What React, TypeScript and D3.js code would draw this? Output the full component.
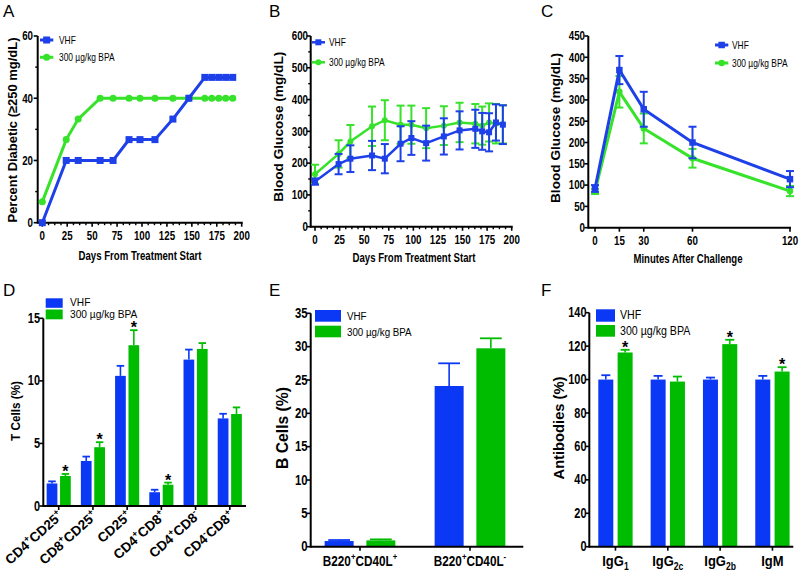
import React from 'react';
import * as d3 from 'd3';

// colours
const LINE_BLUE = '#1e40e8';
const LINE_GREEN = '#36e22a';
const BAR_BLUE = '#0b38f4';
const BAR_GREEN = '#00bc00';
const FONT = '"Liberation Sans", Arial, Helvetica, sans-serif';
const SX = 0.78;

const seriesNames = ['VHF', '300 µg/kg BPA'];

// A - percent diabetic over time
const days = [0, 24, 36, 58, 71, 87, 98, 113, 131, 147, 163, 170, 177, 184, 191];
const diabeticVHF = [0, 20, 20, 20, 20, 26.7, 26.7, 26.7, 33.3, 40, 46.7, 46.7, 46.7, 46.7, 46.7];
const diabeticBPA = [6.7, 26.7, 33.3, 40, 40, 40, 40, 40, 40, 40, 40, 40, 40, 40, 40];

// B - blood glucose over time (mean, sem)
const glucoseVHF = [142, 197, 214, 224, 214, 261, 279, 263, 284, 303, 308, 300, 297, 328, 321];
const glucoseVHFErr = [10, 32, 42, 46, 46, 55, 53, 55, 57, 60, 60, 58, 60, 57, 61];
const glucoseBPA = [165, 229, 268, 316, 335, 321, 321, 310, 318, 328, 324, 318, 328, 324, 322];
const glucoseBPAErr = [30, 43, 52, 62, 63, 60, 60, 63, 61, 62, 62, 60, 60, 62, 60];

// C - glucose tolerance test
const gttMinutes = [0, 15, 30, 60, 120];
const gttVHF = [92, 370, 278, 200, 114];
const gttVHFErr = [8, 33, 41, 37, 19];
const gttBPA = [85, 319, 233, 163, 86];
const gttBPAErr = [6, 37, 35, 22, 12];

// D - T cells
const tCellLabels = ['CD4^{+}CD25^{+}', 'CD8^{+}CD25^{+}', 'CD25^{+}', 'CD4^{+}CD8^{+}', 'CD4^{+}CD8^{-}', 'CD4^{-}CD8^{+}'];
const tCellVHF = [1.8, 3.6, 10.4, 1.1, 11.7, 7.0];
const tCellVHFErr = [0.17, 0.35, 0.8, 0.2, 0.8, 0.37];
const tCellBPA = [2.4, 4.7, 12.85, 1.7, 12.55, 7.35];
const tCellBPAErr = [0.16, 0.4, 1.2, 0.17, 0.47, 0.53];
const tCellStars = [0, 1, 2, 3];

// E - B cells
const bCellLabels = ['B220^{+}CD40L^{+}', 'B220^{+}CD40L^{-}'];
const bCellVHF = [0.85, 24.1];
const bCellVHFErr = [0.15, 3.4];
const bCellBPA = [0.95, 29.75];
const bCellBPAErr = [0.15, 1.5];

// F - antibodies
const antibodyLabels = ['IgG_{1}', 'IgG_{2c}', 'IgG_{2b}', 'IgM'];
const antibodyVHF = [100, 100, 100, 100];
const antibodyVHFErr = [2.6, 2.2, 1.2, 2.2];
const antibodyBPA = [116.2, 98.8, 121.2, 104.8];
const antibodyBPAErr = [1.6, 3.0, 2.6, 2.6];
const antibodyStars = [0, 2, 3];

type Part = { text: string; kind: 'n' | 'sup' | 'sub' };

const parseLabel = (s: string): Part[] => {
  const parts: Part[] = [];
  const re = /([\^_])\{([^}]*)\}/g;
  let last = 0;
  let m: RegExpExecArray | null;
  while ((m = re.exec(s))) {
    if (m.index > last) parts.push({ text: s.slice(last, m.index), kind: 'n' });
    parts.push({ text: m[2], kind: m[1] === '^' ? 'sup' : 'sub' });
    last = re.lastIndex;
  }
  if (last < s.length) parts.push({ text: s.slice(last), kind: 'n' });
  return parts;
};

const RichText = ({ label, size }: { label: string; size: number }) => {
  let off = 0;
  return (
    <>
      {parseLabel(label).map((p, i) => {
        const target = p.kind === 'sup' ? -size * 0.42 : p.kind === 'sub' ? size * 0.28 : 0;
        const dy = target - off;
        off = target;
        return (
          <tspan key={i} dy={dy} fontSize={p.kind === 'n' ? size : size * 0.66}>
            {p.text}
          </tspan>
        );
      })}
    </>
  );
};

// horizontal text squeezed a little, like the source figure
const HText = ({ x, y, size, anchor = 'middle', weight = 'bold', sx = SX, children }: any) => (
  <text
    transform={`translate(${x},${y}) scale(${sx},1)`}
    fontSize={size}
    fontWeight={weight}
    textAnchor={anchor}
    fill="#000"
  >
    {children}
  </text>
);

const VTitle = ({ x, y, size, len, children }: any) => (
  <text
    transform={`translate(${x},${y}) rotate(-90)`}
    fontSize={size}
    fontWeight="bold"
    textAnchor="middle"
    dominantBaseline="central"
    textLength={len}
    lengthAdjust="spacingAndGlyphs"
  >
    {children}
  </text>
);

const PanelLetter = ({ x, y, t }: { x: number; y: number; t: string }) => (
  <text x={x} y={y} fontSize={17} fill="#000">
    {t}
  </text>
);

const Marker = ({ kind, cx, cy, size, color }: any) =>
  kind === 'square' ? (
    <rect x={cx - size / 2} y={cy - size / 2} width={size} height={size} fill={color} />
  ) : (
    <circle cx={cx} cy={cy} r={size / 2} fill={color} />
  );

interface LineSeries {
  values: number[];
  err?: number[];
  color: string;
  marker: 'square' | 'circle';
}

interface LinePanelProps {
  x: d3.ScaleLinear<number, number>;
  y: d3.ScaleLinear<number, number>;
  xs: number[];
  series: LineSeries[];
  axisX: number;
  xTicks: number[];
  xMinor: number[];
  yTicks: number[];
  yMinor: number[];
  tickFont: number;
  xLabelY: number;
  yLabelEnd: number;
  xTitle: string;
  xTitlePos: [number, number, number];
  yTitle: string;
  yTitlePos: [number, number, number];
  lineWidth: number;
  markerSize: number;
  legend: { x0: number; x1: number; textX: number; ys: number[] };
}

const LinePanel: React.FC<LinePanelProps> = (p) => {
  const y0 = p.y(0);
  const xEnd = p.x(p.x.domain()[1]);
  const yTop = p.y(p.y.domain()[1]);
  const line = d3
    .line<number>()
    .x((_, i) => p.x(p.xs[i]))
    .y((d) => p.y(d));
  return (
    <g>
      {/* axes */}
      <line x1={p.axisX} x2={p.axisX} y1={y0 + 1} y2={yTop} stroke="#000" strokeWidth={2} />
      <line x1={p.axisX} x2={xEnd + 1} y1={y0} y2={y0} stroke="#000" strokeWidth={2} />
      {p.yTicks.map((t) => (
        <g key={'y' + t}>
          <line x1={p.axisX - 4} x2={p.axisX} y1={p.y(t)} y2={p.y(t)} stroke="#000" strokeWidth={1.6} />
          <HText x={p.yLabelEnd} y={p.y(t) + 4.3} size={p.tickFont} anchor="end">
            {t}
          </HText>
        </g>
      ))}
      {p.yMinor.map((t) => (
        <line key={'ym' + t} x1={p.axisX - 2.5} x2={p.axisX} y1={p.y(t)} y2={p.y(t)} stroke="#000" strokeWidth={1.4} />
      ))}
      {p.xTicks.map((t) => (
        <g key={'x' + t}>
          <line x1={p.x(t)} x2={p.x(t)} y1={y0} y2={y0 + 4} stroke="#000" strokeWidth={1.6} />
          <HText x={p.x(t)} y={p.xLabelY} size={p.tickFont}>
            {t}
          </HText>
        </g>
      ))}
      {p.xMinor.map((t) => (
        <line key={'xm' + t} x1={p.x(t)} x2={p.x(t)} y1={y0} y2={y0 + 2.5} stroke="#000" strokeWidth={1.4} />
      ))}
      <HText x={p.xTitlePos[0]} y={p.xTitlePos[1]} size={13.5} sx={1}>
        <tspan textLength={p.xTitlePos[2]} lengthAdjust="spacingAndGlyphs">
          {p.xTitle}
        </tspan>
      </HText>
      <VTitle x={p.yTitlePos[0]} y={p.yTitlePos[1]} size={13.5} len={p.yTitlePos[2]}>
        {p.yTitle}
      </VTitle>

      {/* data, BPA drawn first so VHF sits on top */}
      {[...p.series].reverse().map((s, si) => (
        <g key={si}>
          {s.err &&
            s.values.map((v, i) => {
              const cx = p.x(p.xs[i]);
              const hi = p.y(v + s.err![i]);
              const lo = p.y(Math.max(0, v - s.err![i]));
              return (
                <g key={i} stroke={s.color} strokeWidth={2}>
                  <line x1={cx} x2={cx} y1={lo} y2={hi} />
                  <line x1={cx - 4} x2={cx + 4} y1={hi} y2={hi} />
                  <line x1={cx - 4} x2={cx + 4} y1={lo} y2={lo} />
                </g>
              );
            })}
          <path d={line(s.values) || ''} fill="none" stroke={s.color} strokeWidth={p.lineWidth} />
          {s.values.map((v, i) => (
            <Marker key={i} kind={s.marker} cx={p.x(p.xs[i])} cy={p.y(v)} size={p.markerSize} color={s.color} />
          ))}
        </g>
      ))}

      {/* legend */}
      {p.series.map((s, i) => (
        <g key={'lg' + i}>
          <line x1={p.legend.x0} x2={p.legend.x1} y1={p.legend.ys[i]} y2={p.legend.ys[i]} stroke={s.color} strokeWidth={p.lineWidth} />
          <Marker kind={s.marker} cx={(p.legend.x0 + p.legend.x1) / 2} cy={p.legend.ys[i]} size={p.markerSize} color={s.color} />
          <HText x={p.legend.textX} y={p.legend.ys[i] + 3.8} size={10.5} anchor="start" weight="normal" sx={0.8}>
            {seriesNames[i]}
          </HText>
        </g>
      ))}
    </g>
  );
};

interface BarPanelProps {
  cats: string[];
  vhf: number[];
  vhfErr: number[];
  bpa: number[];
  bpaErr: number[];
  stars: number[];
  y: d3.ScaleLinear<number, number>;
  axisX: number;
  xEnd: number;
  bandRange: [number, number];
  padInner: number;
  innerPad: number;
  yTicks: number[];
  tickFont: number;
  yLabelEnd: number;
  rotated: boolean;
  xLabelY: number;
  xLabelFont: number;
  yTitle: string;
  yTitlePos: [number, number, number];
  yTitleFont: number;
  legend: { x: number; w: number; rects: [number, number][]; textX: number; textYs: number[]; font: number; sx: number };
  capFrac: number;
}

const BarPanel: React.FC<BarPanelProps> = (p) => {
  const x0 = d3.scaleBand<string>().domain(p.cats).range(p.bandRange).paddingInner(p.padInner).paddingOuter(p.padInner / 2);
  const x1 = d3.scaleBand<string>().domain(seriesNames).range([0, x0.bandwidth()]).paddingInner(p.innerPad);
  const bw = x1.bandwidth();
  const y0 = p.y(0);
  const yTop = p.y(p.y.domain()[1]);
  const groups = [
    { vals: p.vhf, errs: p.vhfErr, color: BAR_BLUE, name: seriesNames[0] },
    { vals: p.bpa, errs: p.bpaErr, color: BAR_GREEN, name: seriesNames[1] },
  ];
  return (
    <g>
      {groups.map((g) =>
        p.cats.map((c, i) => {
          const bx = (x0(c) || 0) + (x1(g.name) || 0);
          const cx = bx + bw / 2;
          const top = p.y(g.vals[i]);
          const cap = p.y(g.vals[i] + g.errs[i]);
          const half = (bw * p.capFrac) / 2;
          return (
            <g key={g.name + c}>
              <rect x={bx} y={top} width={bw} height={y0 - top} fill={g.color} />
              <line x1={cx} x2={cx} y1={top} y2={cap} stroke={g.color} strokeWidth={1.6} />
              <line x1={cx - half} x2={cx + half} y1={cap} y2={cap} stroke={g.color} strokeWidth={1.8} />
              {g.name === seriesNames[1] && p.stars.includes(i) && (
                <text x={cx} y={cap + 3.2} fontSize={16} fontWeight="bold" textAnchor="middle" fill="#000">
                  *
                </text>
              )}
            </g>
          );
        })
      )}

      {/* axes */}
      <line x1={p.axisX} x2={p.axisX} y1={y0 + 1} y2={yTop} stroke="#000" strokeWidth={2} />
      <line x1={p.axisX} x2={p.xEnd} y1={y0} y2={y0} stroke="#000" strokeWidth={2} />
      {p.yTicks.map((t) => (
        <g key={'y' + t}>
          <line x1={p.axisX - 4} x2={p.axisX} y1={p.y(t)} y2={p.y(t)} stroke="#000" strokeWidth={1.6} />
          <HText x={p.yLabelEnd} y={p.y(t) + 4.6} size={p.tickFont} anchor="end">
            {t}
          </HText>
        </g>
      ))}
      {p.cats.map((c) => {
        const cx = (x0(c) || 0) + x0.bandwidth() / 2;
        return (
          <g key={'x' + c}>
            <line x1={cx} x2={cx} y1={y0} y2={y0 + 4} stroke="#000" strokeWidth={1.6} />
            {p.rotated ? (
              <text
                transform={`translate(${cx + 5},${p.xLabelY}) rotate(-42)`}
                fontSize={p.xLabelFont}
                fontWeight="bold"
                textAnchor="end"
              >
                <RichText label={c} size={p.xLabelFont} />
              </text>
            ) : (
              <HText x={cx} y={p.xLabelY} size={p.xLabelFont} sx={0.84}>
                <RichText label={c} size={p.xLabelFont} />
              </HText>
            )}
          </g>
        );
      })}
      <VTitle x={p.yTitlePos[0]} y={p.yTitlePos[1]} size={p.yTitleFont} len={p.yTitlePos[2]}>
        {p.yTitle}
      </VTitle>

      {/* legend */}
      {groups.map((g, i) => (
        <g key={'lg' + i}>
          <rect x={p.legend.x} y={p.legend.rects[i][0]} width={p.legend.w} height={p.legend.rects[i][1]} fill={g.color} />
          <HText x={p.legend.textX} y={p.legend.textYs[i]} size={p.legend.font} anchor="start" weight="normal" sx={p.legend.sx}>
            {g.name}
          </HText>
        </g>
      ))}
    </g>
  );
};

const range = (a: number, b: number, s: number) => d3.range(a, b + s / 2, s);

const App: React.FC = () => {
  const xA = d3.scaleLinear().domain([0, 200]).range([42.3, 241.7]);
  const yA = d3.scaleLinear().domain([0, 60]).range([222.7, 36]);
  const xB = d3.scaleLinear().domain([0, 200]).range([315, 511.7]);
  const yB = d3.scaleLinear().domain([0, 600]).range([226.7, 36]);
  const xC = d3.scaleLinear().domain([0, 120]).range([595, 790]);
  const yC = d3.scaleLinear().domain([0, 450]).range([227.7, 36]);
  const yD = d3.scaleLinear().domain([0, 15]).range([506, 318.3]);
  const yE = d3.scaleLinear().domain([0, 35]).range([546.7, 313.3]);
  const yF = d3.scaleLinear().domain([0, 140]).range([546.7, 312.7]);

  const dayTicks = range(0, 200, 25);
  const dayMinor = range(0, 200, 6.25).filter((d) => d % 25 !== 0);

  return (
    <div style={{ position: 'absolute', left: 0, top: 0 }}>
      <svg width={800} height={572} viewBox="0 0 800 572" style={{ display: 'block', background: '#fff', fontFamily: FONT }}>
        <rect width={800} height={572} fill="#fff" />
        <PanelLetter x={3} y={17} t="A" />
        <PanelLetter x={269} y={17} t="B" />
        <PanelLetter x={541} y={17} t="C" />
        <PanelLetter x={3} y={296} t="D" />
        <PanelLetter x={269} y={296} t="E" />
        <PanelLetter x={541} y={296} t="F" />

        <LinePanel
          x={xA}
          y={yA}
          xs={days}
          series={[
            { values: diabeticVHF, color: LINE_BLUE, marker: 'square' },
            { values: diabeticBPA, color: LINE_GREEN, marker: 'circle' },
          ]}
          axisX={37.7}
          xTicks={dayTicks}
          xMinor={dayMinor}
          yTicks={[0, 20, 40, 60]}
          yMinor={[10, 30, 50]}
          tickFont={12.5}
          xLabelY={239.5}
          yLabelEnd={33}
          xTitle="Days From Treatment Start"
          xTitlePos={[140, 259.5, 123]}
          yTitle="Percent Diabetic (≥250 mg/dL)"
          yTitlePos={[12.3, 130, 185]}
          lineWidth={3}
          markerSize={7}
          legend={{ x0: 40, x1: 53.3, textX: 59, ys: [40, 57.3] }}
        />

        <LinePanel
          x={xB}
          y={yB}
          xs={days}
          series={[
            { values: glucoseVHF, err: glucoseVHFErr, color: LINE_BLUE, marker: 'square' },
            { values: glucoseBPA, err: glucoseBPAErr, color: LINE_GREEN, marker: 'circle' },
          ]}
          axisX={310.7}
          xTicks={dayTicks}
          xMinor={dayMinor}
          yTicks={range(0, 600, 100)}
          yMinor={range(50, 550, 100)}
          tickFont={12.5}
          xLabelY={244}
          yLabelEnd={308}
          xTitle="Days From Treatment Start"
          xTitlePos={[414, 261.5, 123]}
          yTitle="Blood Glucose (mg/dL)"
          yTitlePos={[278.3, 126.7, 150]}
          lineWidth={2.5}
          markerSize={6}
          legend={{ x0: 311.7, x1: 325, textX: 329, ys: [42.3, 62.3] }}
        />

        <LinePanel
          x={xC}
          y={yC}
          xs={gttMinutes}
          series={[
            { values: gttVHF, err: gttVHFErr, color: LINE_BLUE, marker: 'square' },
            { values: gttBPA, err: gttBPAErr, color: LINE_GREEN, marker: 'circle' },
          ]}
          axisX={588.3}
          xTicks={gttMinutes}
          xMinor={[]}
          yTicks={range(0, 450, 50)}
          yMinor={[]}
          tickFont={12.5}
          xLabelY={244.5}
          yLabelEnd={585}
          xTitle="Minutes After Challenge"
          xTitlePos={[688, 262.5, 109]}
          yTitle="Blood Glucose (mg/dL)"
          yTitlePos={[555, 128, 150]}
          lineWidth={3}
          markerSize={6.5}
          legend={{ x0: 715, x1: 728.3, textX: 732, ys: [45, 63] }}
        />

        <BarPanel
          cats={tCellLabels}
          vhf={tCellVHF}
          vhfErr={tCellVHFErr}
          bpa={tCellBPA}
          bpaErr={tCellBPAErr}
          stars={tCellStars}
          y={yD}
          axisX={43.3}
          xEnd={246}
          bandRange={[41.6, 246.9]}
          padInner={0.295}
          innerPad={0.2}
          yTicks={[0, 5, 10, 15]}
          tickFont={14}
          yLabelEnd={40}
          rotated
          xLabelY={517}
          xLabelFont={13.5}
          yTitle="T Cells (%)"
          yTitlePos={[15, 411, 60]}
          yTitleFont={13.5}
          legend={{ x: 45.7, w: 17, rects: [[298.3, 9.5], [309.5, 9.8]], textX: 70, textYs: [305.6, 318.3], font: 10.5, sx: 0.97 }}
          capFrac={0.7}
        />

        <BarPanel
          cats={bCellLabels}
          vhf={bCellVHF}
          vhfErr={bCellVHFErr}
          bpa={bCellBPA}
          bpaErr={bCellBPAErr}
          stars={[]}
          y={yE}
          axisX={310.7}
          xEnd={523.3}
          bandRange={[305, 525]}
          padInner={0.357}
          innerPad={0.305}
          yTicks={range(0, 35, 5)}
          tickFont={14.5}
          yLabelEnd={307.5}
          rotated={false}
          xLabelY={566}
          xLabelFont={14}
          yTitle="B Cells (%)"
          yTitlePos={[282, 428, 82]}
          yTitleFont={16}
          legend={{ x: 315, w: 26, rects: [[310, 11.7], [325.7, 11.6]], textX: 347, textYs: [320, 336], font: 11.5, sx: 0.85 }}
          capFrac={0.75}
        />

        <BarPanel
          cats={antibodyLabels}
          vhf={antibodyVHF}
          vhfErr={antibodyVHFErr}
          bpa={antibodyBPA}
          bpaErr={antibodyBPAErr}
          stars={antibodyStars}
          y={yF}
          axisX={589.3}
          xEnd={793.3}
          bandRange={[589.3, 798.6]}
          padInner={0.344}
          innerPad={0.223}
          yTicks={range(0, 140, 20)}
          tickFont={14}
          yLabelEnd={586.5}
          rotated={false}
          xLabelY={565.5}
          xLabelFont={15.5}
          yTitle="Antibodies (%)"
          yTitlePos={[558.3, 428, 103]}
          yTitleFont={15}
          legend={{ x: 596, w: 19, rects: [[309.3, 12.4], [325, 11.7]], textX: 620, textYs: [319.3, 335], font: 12.5, sx: 0.85 }}
          capFrac={0.6}
        />
      </svg>
    </div>
  );
};

export default App;
